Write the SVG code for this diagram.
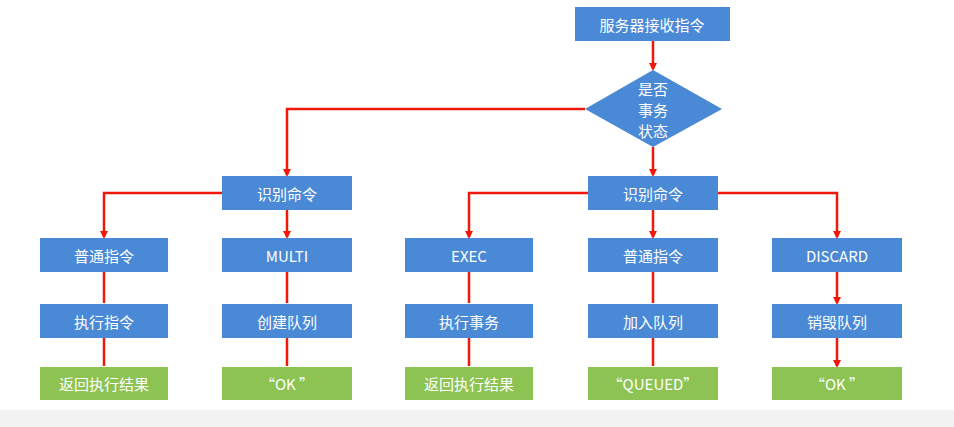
<svg xmlns="http://www.w3.org/2000/svg" width="954" height="427" viewBox="0 0 954 427">
<defs>
<style>
.b{fill:#4a89d6}
.g{fill:#8dc352}
.t{font-family:"Noto Sans CJK SC","Noto Sans",sans-serif;font-size:15px;fill:#fff;text-anchor:middle;dominant-baseline:central}
.c{fill:none;stroke:#f0180a;stroke-width:2.5}
</style>
<marker id="a" markerWidth="8" markerHeight="8" refX="6" refY="4" orient="auto" markerUnits="userSpaceOnUse"><path d="M0,0L8,4L0,8z" fill="#f0180a"/></marker>
</defs>
<rect width="954" height="427" fill="#fff"/>
<rect y="410" width="954" height="17" fill="#f2f2f2"/>
<g id="connectors" class="c">
<path d="M653,41V69" marker-end="url(#a)"/>
<path d="M653,147V175" marker-end="url(#a)"/>
<path d="M585,109H287V175" marker-end="url(#a)"/>
<path d="M222,193H104V237" marker-end="url(#a)"/>
<path d="M287,210V237" marker-end="url(#a)"/>
<path d="M588,193H469V237" marker-end="url(#a)"/>
<path d="M653,210V237" marker-end="url(#a)"/>
<path d="M718,193H837V237" marker-end="url(#a)"/>
<path d="M104,272V303M287,272V303M469,272V303M653,272V303M837,272V303" marker-end="url(#a)"/>
<path d="M104,338V366M287,338V366M469,338V366M653,338V366M837,338V366" marker-end="url(#a)"/>
</g>
<g id="start"><rect class="b" x="575" y="7" width="155" height="34"/><text class="t" x="652" y="24">服务器接收指令</text></g>
<g id="decision"><path class="b" d="M653,70L722,109L653,147L585,109z"/><text class="t" x="653" y="88">是否</text><text class="t" x="653" y="109">事务</text><text class="t" x="653" y="130">状态</text></g>
<g id="id1"><rect class="b" x="222" y="176" width="130" height="34"/><text class="t" x="287" y="193">识别命令</text></g>
<g id="id2"><rect class="b" x="588" y="176" width="130" height="34"/><text class="t" x="653" y="193">识别命令</text></g>
<g id="n1"><rect class="b" x="40" y="238" width="128" height="34"/><text class="t" x="104" y="255">普通指令</text></g>
<g id="n2"><rect class="b" x="222" y="238" width="130" height="34"/><text class="t" x="287" y="255">MULTI</text></g>
<g id="n3"><rect class="b" x="405" y="238" width="128" height="34"/><text class="t" x="469" y="255">EXEC</text></g>
<g id="n4"><rect class="b" x="588" y="238" width="130" height="34"/><text class="t" x="653" y="255">普通指令</text></g>
<g id="n5"><rect class="b" x="772" y="238" width="130" height="34"/><text class="t" x="837" y="255">DISCARD</text></g>
<g id="m1"><rect class="b" x="40" y="304" width="128" height="34"/><text class="t" x="104" y="321">执行指令</text></g>
<g id="m2"><rect class="b" x="222" y="304" width="130" height="34"/><text class="t" x="287" y="321">创建队列</text></g>
<g id="m3"><rect class="b" x="405" y="304" width="128" height="34"/><text class="t" x="469" y="321">执行事务</text></g>
<g id="m4"><rect class="b" x="588" y="304" width="130" height="34"/><text class="t" x="653" y="321">加入队列</text></g>
<g id="m5"><rect class="b" x="772" y="304" width="130" height="34"/><text class="t" x="837" y="321">销毁队列</text></g>
<g id="r1"><rect class="g" x="40" y="367" width="128" height="33"/><text class="t" x="104" y="383">返回执行结果</text></g>
<g id="r2"><rect class="g" x="222" y="367" width="130" height="33"/><text class="t" x="287" y="383">“OK ”</text></g>
<g id="r3"><rect class="g" x="405" y="367" width="128" height="33"/><text class="t" x="469" y="383">返回执行结果</text></g>
<g id="r4"><rect class="g" x="588" y="367" width="130" height="33"/><text class="t" x="653" y="383">“QUEUED”</text></g>
<g id="r5"><rect class="g" x="772" y="367" width="130" height="33"/><text class="t" x="837" y="383">“OK ”</text></g>
</svg>
